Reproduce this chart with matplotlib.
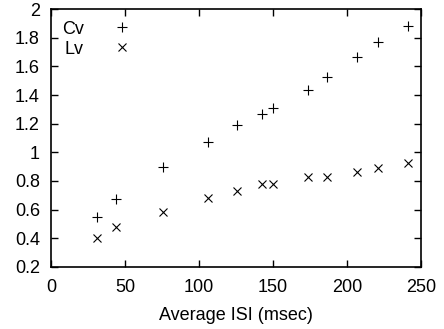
import matplotlib
matplotlib.use('Agg')
import matplotlib.pyplot as plt
from matplotlib.ticker import FormatStrFormatter

plt.rcParams['font.family'] = ['Liberation Sans', 'DejaVu Sans']

isi = [30.9, 43.9, 75.4, 105.8, 125.7, 142.6, 150.0, 173.6, 186.7, 206.8, 220.9, 241.0]
cv = [0.55, 0.673, 0.90, 1.074, 1.189, 1.266, 1.312, 1.436, 1.529, 1.664, 1.771, 1.883]
lv = [0.399, 0.478, 0.583, 0.683, 0.731, 0.778, 0.778, 0.827, 0.827, 0.864, 0.888, 0.923]

fig = plt.figure(figsize=(4.44, 3.29), dpi=100)
ax = fig.add_axes([0.115, 0.189, 0.833, 0.783])

ax.plot(isi, cv, linestyle='none', marker='+', color='black', markersize=7, markeredgewidth=0.8, label='Cv')
ax.plot(isi, lv, linestyle='none', marker='x', color='black', markersize=6, markeredgewidth=0.8, label='Lv')

ax.set_xlim(0, 250)
ax.set_ylim(0.2, 2)
ax.set_xticks([0, 50, 100, 150, 200, 250])
ax.set_yticks([0.2, 0.4, 0.6, 0.8, 1.0, 1.2, 1.4, 1.6, 1.8, 2.0])
ax.yaxis.set_major_formatter(FormatStrFormatter('%g'))
ax.tick_params(direction='in', top=True, right=True, length=5, width=1, labelsize=13)
ax.tick_params(axis='y', pad=8)
ax.tick_params(axis='x', pad=9)
for s in ax.spines.values():
    s.set_linewidth(1.2)

ax.set_xlabel('Average ISI (msec)', fontsize=13, labelpad=8)

leg = ax.legend(loc='upper left', markerfirst=False, frameon=False, fontsize=13,
                handlelength=1.0, handletextpad=1.6, labelspacing=0.15,
                borderaxespad=0.1, bbox_to_anchor=(0.005, 0.99))

fig.savefig('out.png', dpi=100)
